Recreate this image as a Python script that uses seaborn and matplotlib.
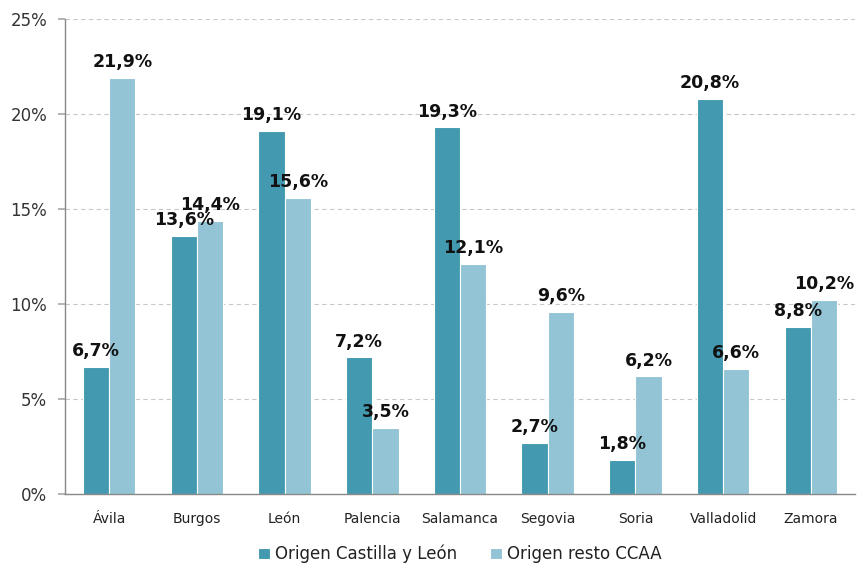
import matplotlib.pyplot as plt
import pandas as pd
import seaborn as sns
from matplotlib.ticker import FuncFormatter

provincias = ["Ávila", "Burgos", "León", "Palencia", "Salamanca",
              "Segovia", "Soria", "Valladolid", "Zamora"]
origen_cyl = [6.7, 13.6, 19.1, 7.2, 19.3, 2.7, 1.8, 20.8, 8.8]
origen_resto = [21.9, 14.4, 15.6, 3.5, 12.1, 9.6, 6.2, 6.6, 10.2]
series = ["Origen Castilla y León", "Origen resto CCAA"]

df = pd.DataFrame({
    "Provincia": provincias * 2,
    "Valor": origen_cyl + origen_resto,
    "Serie": [series[0]] * len(provincias) + [series[1]] * len(provincias),
})

sns.set_theme(style="white")
plt.rcParams["font.family"] = ["DejaVu Sans"]

fig, ax = plt.subplots(figsize=(8.59, 5.63), dpi=100)
fig.subplots_adjust(left=0.076, right=0.995, top=0.966, bottom=0.122)

# colores tal cual, sin desaturar
sns.barplot(data=df, x="Provincia", y="Valor", hue="Serie", ax=ax,
            palette=["#4299B0", "#93C4D5"], saturation=1, width=0.6,
            edgecolor="white", linewidth=0.8)

for cont in ax.containers:
    ax.bar_label(cont, labels=[f"{v:.1f}%".replace(".", ",") for v in cont.datavalues],
                 padding=5, fontsize=12.5, fontweight="bold", color="#111111")

ax.set_ylim(0, 25)
ax.set_yticks(range(0, 26, 5))
ax.yaxis.set_major_formatter(FuncFormatter(lambda v, p: f"{v:.0f}%"))
ax.yaxis.grid(True, linestyle=(0, (4, 3)), color="#C8C8C8", linewidth=0.8)
ax.set_axisbelow(True)
ax.set_xlabel("")
ax.set_ylabel("")

for s in ["top", "right"]:
    ax.spines[s].set_visible(False)
for s in ["left", "bottom"]:
    ax.spines[s].set_color("#888888")
    ax.spines[s].set_linewidth(1)

ax.tick_params(axis="y", left=True, length=5, color="#AAAAAA", labelsize=12,
               labelcolor="#333333", pad=8)
ax.tick_params(axis="x", bottom=False, labelsize=10, labelcolor="#222222", pad=7)

ax.legend(loc="upper center", bbox_to_anchor=(0.5, -0.075), ncol=2, frameon=False,
          fontsize=12, handlelength=0.7, handleheight=0.7, handletextpad=0.3,
          columnspacing=2.0, labelcolor="#222222")

fig.savefig("out.png", dpi=100)
